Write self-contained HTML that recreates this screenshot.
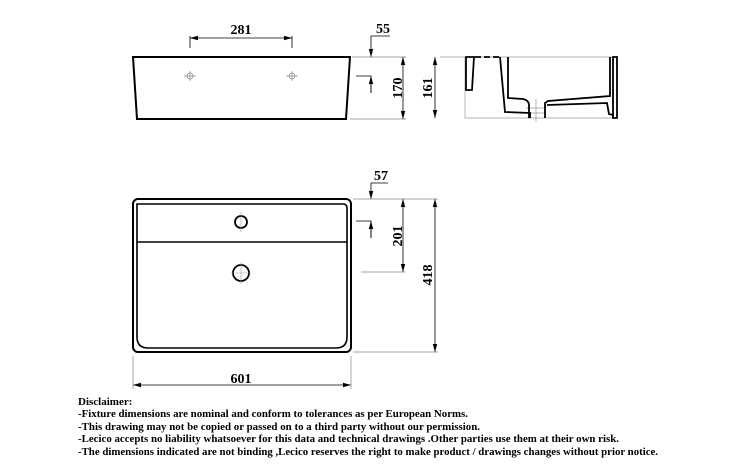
<!DOCTYPE html>
<html><head><meta charset="utf-8"><style>
body{margin:0;background:#fff;}
svg{display:block}
text{font-family:"Liberation Serif",serif;font-weight:bold;fill:#000}
</style></head><body>
<svg width="750" height="475" viewBox="0 0 750 475" xmlns="http://www.w3.org/2000/svg">
<defs>
<marker id="a" markerWidth="8" markerHeight="6" refX="8" refY="3" orient="auto" markerUnits="userSpaceOnUse"><path d="M0,0.8 L8,3 L0,5.2 Z" fill="#000"/></marker>
</defs>
<path d="M133,57 L350,57 L346,119 L137,119 Z" fill="none" stroke="#000" stroke-width="2"/>
<g stroke="#888" stroke-width="0.7" fill="none">
<circle cx="190" cy="76" r="3"/><path d="M184,76h12M190,71v10"/>
<circle cx="292" cy="76" r="3"/><path d="M286,76h12M292,71v10"/>
</g>
<g stroke="#000" stroke-width="0.8" fill="none">
<path d="M190,48V36M292,48V36"/>
<path d="M241,38H190" marker-end="url(#a)"/><path d="M241,38H292" marker-end="url(#a)"/>
<path d="M390,36H371V57" marker-end="url(#a)"/>
<path d="M356,76H371V93"/><path d="M371,93V76" marker-end="url(#a)"/>
</g>
<g stroke="#888" stroke-width="0.7"><path d="M352,57H406M350,119H406"/></g>
<g stroke="#000" stroke-width="0.8"><path d="M403,88V57" marker-end="url(#a)"/><path d="M403,88V119" marker-end="url(#a)"/>
<path d="M435,88V57" marker-end="url(#a)"/><path d="M435,88V118" marker-end="url(#a)"/></g>
<text x="241" y="34" font-size="14" text-anchor="middle">281</text>
<text x="383" y="33" font-size="14" text-anchor="middle">55</text>
<text transform="translate(402,88) rotate(-90)" font-size="14" text-anchor="middle">170</text>
<text transform="translate(432,88) rotate(-90)" font-size="14" text-anchor="middle">161</text>
<g stroke="#999" stroke-width="0.7" fill="none"><path d="M440,57H617M465,118H617M465,57V118M536,99V122M526,108H546M526,113H546"/></g>
<g stroke="#000" stroke-width="1.8" fill="none">
<path d="M466,57H474L472,90H466Z"/>
<path d="M475,57H500" stroke-dasharray="6 3"/>
<path d="M500,57L505,112L530,113V118"/>
<path d="M508,57L508,98L523,99Q528,100 529,104V118"/>
<path d="M545,118V103L548,101L610,96V57"/>
<path d="M547,105L607,103L609,114L613,115V118"/>
<path d="M613,57V118H617V57Z"/>
</g>
<rect x="133" y="199" width="218" height="153" rx="5" fill="none" stroke="#000" stroke-width="2"/>
<path d="M137,204H343Q347,204 347,208V337Q347,348 336,348H148Q137,348 137,337V204Z" fill="none" stroke="#000" stroke-width="1.6"/>
<path d="M137,242H347" stroke="#000" stroke-width="1.6"/>
<circle cx="241" cy="222" r="6" fill="none" stroke="#000" stroke-width="1.8"/>
<circle cx="241" cy="273" r="8" fill="none" stroke="#000" stroke-width="1.8"/>
<g stroke="#999" stroke-width="0.6"><path d="M241,212V232M231,273H251M241,262V284"/></g>
<g stroke="#000" stroke-width="0.8" fill="none">
<path d="M388,183H371V199" marker-end="url(#a)"/>
<path d="M356,221H371V238"/><path d="M371,238V221" marker-end="url(#a)"/>
<path d="M403,236V199" marker-end="url(#a)"/><path d="M403,236V272" marker-end="url(#a)"/>
<path d="M435,275V199" marker-end="url(#a)"/><path d="M435,275V352" marker-end="url(#a)"/>
<path d="M241,385H133" marker-end="url(#a)"/><path d="M241,385H351" marker-end="url(#a)"/>
</g>
<g stroke="#888" stroke-width="0.7"><path d="M353,199H438M353,352H438M361,272H405M133,356V389M351,356V389"/></g>
<text x="381" y="180" font-size="14" text-anchor="middle">57</text>
<text transform="translate(402,236) rotate(-90)" font-size="14" text-anchor="middle">201</text>
<text transform="translate(432,275) rotate(-90)" font-size="14" text-anchor="middle">418</text>
<text x="241" y="383" font-size="14" text-anchor="middle">601</text>
<g font-size="11">
<text x="78" y="405">Disclaimer:</text>
<text x="78" y="417" textLength="390" lengthAdjust="spacingAndGlyphs">-Fixture dimensions are nominal and conform to tolerances as per European Norms.</text>
<text x="78" y="430" textLength="402" lengthAdjust="spacingAndGlyphs">-This drawing may not be copied or passed on to a third party without our permission.</text>
<text x="78" y="442" textLength="541" lengthAdjust="spacingAndGlyphs">-Lecico accepts no liability whatsoever for this data and technical drawings .Other parties use them at their own risk.</text>
<text x="78" y="455" textLength="580" lengthAdjust="spacingAndGlyphs">-The dimensions indicated are not binding ,Lecico reserves the right to make product / drawings changes without prior notice.</text>
</g>
</svg>
</body></html>
